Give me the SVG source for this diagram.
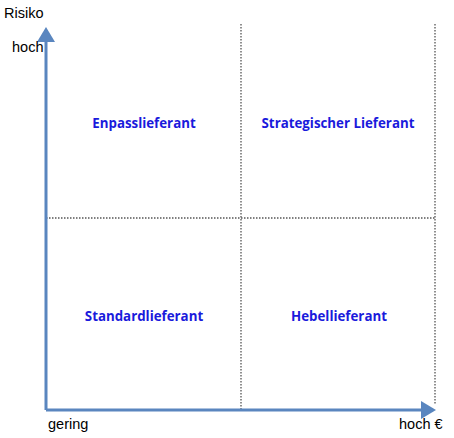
<svg xmlns="http://www.w3.org/2000/svg" width="454" height="438" viewBox="0 0 454 438">
<style>
.ax{stroke:#5a86bf;stroke-width:3;fill:none}
.dot{stroke:#555;stroke-width:1.3;stroke-dasharray:1.5 1.5;fill:none}
.lbl{font-family:"Liberation Sans",Arial,sans-serif;font-size:14.5px;fill:#000}
.q{font-family:"Open Sans","Liberation Sans",sans-serif;font-size:13.3px;font-weight:bold;fill:#1a1adc;text-anchor:middle}
</style>
<defs>
<marker id="ah" markerWidth="6" markerHeight="6" refX="4" refY="3" orient="auto" markerUnits="strokeWidth">
<path d="M0,0 L5,3 L0,6 Z" fill="#5a86bf"/>
</marker>
</defs>
<rect width="454" height="438" fill="#fff"/>
<g id="grid">
<line class="dot" x1="241" y1="24" x2="241" y2="410"/>
<line class="dot" x1="435" y1="24" x2="435" y2="405"/>
<line class="dot" x1="46" y1="218" x2="435" y2="218"/>
</g>
<g id="connectors">
<path class="ax" d="M46,410 L46,30" marker-end="url(#ah)"/>
<path class="ax" d="M46,410 L433,410" marker-end="url(#ah)"/>
</g>
<g id="axis-labels">
<text class="lbl" x="4" y="18">Risiko</text>
<text class="lbl" x="12" y="52">hoch</text>
<text class="lbl" x="48" y="429">gering</text>
<text class="lbl" x="399" y="429">hoch €</text>
</g>
<g id="q1"><text class="q" x="144" y="128">Enpasslieferant</text></g>
<g id="q2"><text class="q" x="338" y="128">Strategischer Lieferant</text></g>
<g id="q3"><text class="q" x="144" y="321">Standardlieferant</text></g>
<g id="q4"><text class="q" x="339" y="321">Hebellieferant</text></g>
</svg>
